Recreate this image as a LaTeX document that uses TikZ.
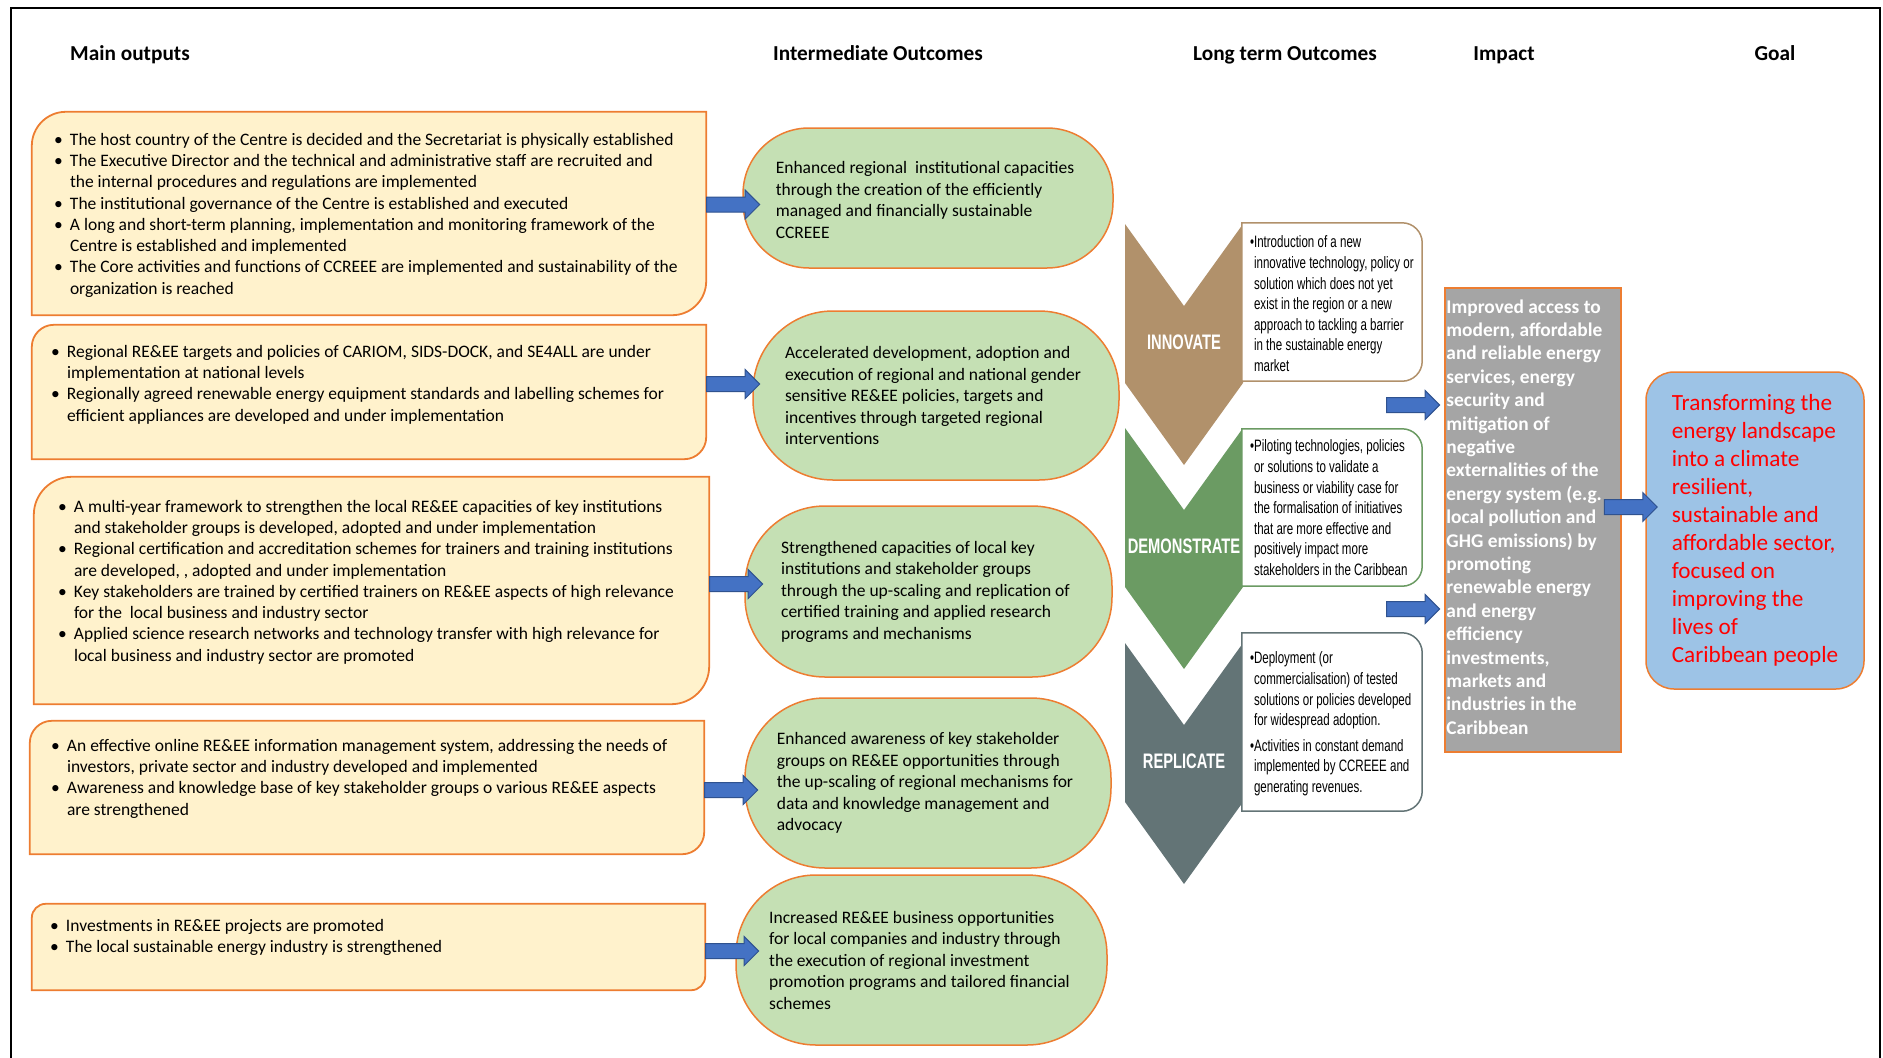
\documentclass[tikz,border=0pt]{standalone}
\usepackage{fontspec}
\setmainfont{Carlito}
\newfontfamily\narrowfont{Liberation Sans}[FakeStretch=0.70]
\usetikzlibrary{positioning,fit,calc,shapes.arrows}

\definecolor{orangeline}{HTML}{ED7D31}
\definecolor{outfill}{HTML}{FFF2CC}
\definecolor{midfill}{HTML}{C5E0B4}
\definecolor{arrowfill}{HTML}{4472C4}
\definecolor{arrowline}{HTML}{2F528F}
\definecolor{innovcol}{HTML}{B1916B}
\definecolor{democol}{HTML}{6B9B63}
\definecolor{replcol}{HTML}{637476}
\definecolor{impfill}{HTML}{A5A5A5}
\definecolor{goalfill}{HTML}{9DC3E6}
\definecolor{goalred}{HTML}{FF0000}

\newcommand\bul{\makebox[16pt][l]{\textbullet}}
\newcommand\cnt{\hspace*{16pt}}
\newcommand\cbul{\textbullet}
\newcommand\ccnt{\phantom{\textbullet}}

% frame with rounded top-left and bottom-right corners
\newcommand\moframe[2]{%
  \draw[outbox] (#1.south west)
    -- ($(#1.north west)+(0,#2)$)
    .. controls ($(#1.north west)+(0,0.45*#2)$) and ($(#1.north west)+(0.45*#2,0)$) .. ($(#1.north west)+(#2,0)$)
    -- (#1.north east)
    -- ($(#1.south east)+(0,-#2)$)
    .. controls ($(#1.south east)+(0,-0.45*#2)$) and ($(#1.south east)+(-0.45*#2,0)$) .. ($(#1.south east)+(-#2,0)$)
    -- cycle;}
% frame with rounded right corners
\newcommand\cbframe[3]{%
  \draw[draw=#3, fill=white, line width=1.5pt] (#1.north west)
    -- ($(#1.north east)+(-#2,0)$)
    .. controls ($(#1.north east)+(-0.45*#2,0)$) and ($(#1.north east)+(0,0.45*#2)$) .. ($(#1.north east)+(0,#2)$)
    -- ($(#1.south east)+(0,-#2)$)
    .. controls ($(#1.south east)+(0,-0.45*#2)$) and ($(#1.south east)+(-0.45*#2,0)$) .. ($(#1.south east)+(-#2,0)$)
    -- (#1.south west) -- cycle;}

\tikzset{
  head/.style={text height=13.7pt, text depth=0pt,
    font=\fontsize{21.3pt}{25pt}\selectfont\bfseries},
  frame/.style={inner sep=0pt},
  outbox/.style={draw=orangeline, fill=outfill, line width=1.8pt},
  outtext/.style={anchor=north west, inner sep=0pt, align=left,
    font=\fontsize{17.5pt}{21.3pt}\selectfont},
  midbox/.style={draw=orangeline, fill=midfill, line width=1.5pt,
    rounded corners=#1, inner sep=0pt},
  midtext/.style={inner sep=0pt, align=left,
    font=\fontsize{17.5pt}{21.5pt}\selectfont},
  blkarrow/.style={single arrow, draw=arrowline, fill=arrowfill, line width=1pt,
    minimum height=53pt, inner xsep=0pt, inner ysep=7pt,
    single arrow head extend=7pt},
  chevlabel/.style={text=white, font=\narrowfont\bfseries\fontsize{21pt}{25pt}\selectfont},
  chevtext/.style={anchor=north west, inner sep=0pt, align=left,
    font=\narrowfont\fontsize{16.5pt}{20.6pt}\selectfont},
}

\begin{document}
\begin{tikzpicture}[x=1pt, y=-1pt]
  \useasboundingbox (0,0) rectangle (1883,1058);
  \draw[line width=2pt] (11,1058) -- (11,8) -- (1880,8) -- (1880,1058);

  % column heads
  \node[head] (hmain) at (130,54) {Main outputs};
  \node[head] (hinter) at (878,54) {Intermediate Outcomes};
  \node[head] (hlong) at (1285,54) {Long term Outcomes};
  \node[head] (himp) at (1504,54) {Impact};
  \node[head] (hgoal) at (1775,54) {Goal};

  % main outputs
  \node[frame, fit={(32,112) (706,315)}] (mo1) {};
  \moframe{mo1}{34}
  \node[outtext] (mot1) at ([shift={(22,21)}]mo1.north west)
    {\bul The host country of the Centre is decided and the Secretariat is physically established\\
     \bul The Executive Director and the technical and administrative staff are recruited and\\
     \cnt the internal procedures and regulations are implemented\\
     \bul The institutional governance of the Centre is established and executed\\
     \bul A long and short-term planning, implementation and monitoring framework of the\\
     \cnt Centre is established and implemented\\
     \bul The Core activities and functions of CCREEE are implemented and sustainability of the\\
     \cnt organization is reached};

  \node[frame, fit={(32,325) (706,459)}] (mo2) {};
  \moframe{mo2}{22}
  \node[outtext] (mot2) at ([shift={(19,20)}]mo2.north west)
    {\bul Regional RE\&EE targets and policies of CARIOM, SIDS-DOCK, and SE4ALL are under\\
     \cnt implementation at national levels\\
     \bul Regionally agreed renewable energy equipment standards and labelling schemes for\\
     \cnt efficient appliances are developed and under implementation};

  \node[frame, fit={(34,477) (709,704)}] (mo3) {};
  \moframe{mo3}{38}
  \node[outtext] (mot3) at ([shift={(24,23)}]mo3.north west)
    {\bul A multi-year framework to strengthen the local RE\&EE capacities of key institutions\\
     \cnt and stakeholder groups is developed, adopted and under implementation\\
     \bul Regional certification and accreditation schemes for trainers and training institutions\\
     \cnt are developed, , adopted and under implementation\\
     \bul Key stakeholders are trained by certified trainers on RE\&EE aspects of high relevance\\
     \cnt for the\ \ local business and industry sector\\
     \bul Applied science research networks and technology transfer with high relevance for\\
     \cnt local business and industry sector are promoted};

  \node[frame, fit={(30,721) (704,854)}] (mo4) {};
  \moframe{mo4}{22}
  \node[outtext] (mot4) at ([shift={(21,18)}]mo4.north west)
    {\bul An effective online RE\&EE information management system, addressing the needs of\\
     \cnt investors, private sector and industry developed and implemented\\
     \bul Awareness and knowledge base of key stakeholder groups o various RE\&EE aspects\\
     \cnt are strengthened};

  \node[frame, fit={(32,904) (705,990)}] (mo5) {};
  \moframe{mo5}{14}
  \node[outtext] (mot5) at ([shift={(18,15)}]mo5.north west)
    {\bul Investments in RE\&EE projects are promoted\\
     \bul The local sustainable energy industry is strengthened};

  % intermediate outcomes
  \node[midbox=66, fit={(743,128) (1113,268)}] (io1) {};
  \node[midtext] (iot1) at ([shift={(-3pt,-2pt)}]io1.center)
    {Enhanced regional\ \ institutional capacities\\
     through the creation of the efficiently\\
     managed and financially sustainable\\
     CCREEE};
  \node[midbox=80, fit={(753,311) (1119,480)}] (io2) {};
  \node[midtext] (iot2) at ([xshift=-3pt]io2.center)
    {Accelerated development, adoption and\\
     execution of regional and national gender\\
     sensitive RE\&EE policies, targets and\\
     incentives through targeted regional\\
     interventions};
  \node[midbox=80, fit={(745,506) (1112,677)}] (io3) {};
  \node[midtext] (iot3) at ([xshift=-3pt]io3.center)
    {Strengthened capacities of local key\\
     institutions and stakeholder groups\\
     through the up-scaling and replication of\\
     certified training and applied research\\
     programs and mechanisms};
  \node[midbox=80, fit={(745,698) (1111,868)}] (io4) {};
  \node[midtext] (iot4) at ([xshift=-3pt]io4.center)
    {Enhanced awareness of key stakeholder\\
     groups on RE\&EE opportunities through\\
     the up-scaling of regional mechanisms for\\
     data and knowledge management and\\
     advocacy};
  \node[midbox=80, fit={(736,875) (1107,1045)}] (io5) {};
  \node[midtext] (iot5) at ([xshift=-2pt]io5.center)
    {Increased RE\&EE business opportunities\\
     for local companies and industry through\\
     the execution of regional investment\\
     promotion programs and tailored financial\\
     schemes};

  \node[blkarrow, anchor=tail] (ar1) at ([yshift=9pt]mo1.east) {};
  \node[blkarrow, anchor=tail] (ar2) at ([yshift=8pt]mo2.east) {};
  \node[blkarrow, anchor=tail] (ar3) at ([yshift=6.5pt]mo3.east) {};
  \node[blkarrow, anchor=tail] (ar4) at ([yshift=-2.5pt]mo4.east) {};
  \node[blkarrow, anchor=tail] (ar5) at ([yshift=-4pt]mo5.east) {};

  % long term outcomes
  \foreach \ty/\col/\lbl/\nm in {224/innovcol/INNOVATE/ch1,
                                 428/democol/DEMONSTRATE/ch2,
                                 643/replcol/REPLICATE/ch3}{
    \fill[\col] (1125,\ty) -- (1184,\ty+82) -- (1243,\ty) -- (1243,\ty+159)
      -- (1184,\ty+241) -- (1125,\ty+159) -- cycle;
    \node[chevlabel] (\nm) at (1184,\ty+118) {\lbl};
  }

  \node[frame, fit={(1242,223) (1422,381)}] (cb1) {};
  \cbframe{cb1}{20}{innovcol}
  \node[chevtext] (cbt1) at ([shift={(8,13)}]cb1.north west)
    {\cbul Introduction of a new\\
     \ccnt innovative technology, policy or\\
     \ccnt solution which does not yet\\
     \ccnt exist in the region or a new\\
     \ccnt approach to tackling a barrier\\
     \ccnt in the sustainable energy\\
     \ccnt market};

  \node[frame, fit={(1242,429) (1422,586)}] (cb2) {};
  \cbframe{cb2}{20}{democol}
  \node[chevtext] (cbt2) at ([shift={(8,11)}]cb2.north west)
    {\cbul Piloting technologies, policies\\
     \ccnt or solutions to validate a\\
     \ccnt business or viability case for\\
     \ccnt the formalisation of initiatives\\
     \ccnt that are more effective and\\
     \ccnt positively impact more\\
     \ccnt stakeholders in the Caribbean};

  \node[frame, fit={(1242,633) (1422,811)}] (cb3) {};
  \cbframe{cb3}{20}{replcol}
  \node[chevtext] (cbt3) at ([shift={(8,19)}]cb3.north west)
    {\cbul Deployment (or\\
     \ccnt commercialisation) of tested\\
     \ccnt solutions or policies developed\\
     \ccnt for widespread adoption.\\[5pt]
     \cbul Activities in constant demand\\
     \ccnt implemented by CCREEE and\\
     \ccnt generating revenues.};

  % impact
  \node[frame, draw=orangeline, fill=impfill, line width=1.5pt,
        fit={(1445,288) (1621,752)}] (imp) {};
  \node[anchor=west, inner sep=0pt, align=left, text=white,
        font=\fontsize{19.4pt}{23.4pt}\selectfont\bfseries] (impt)
        at ([shift={(2pt,3pt)}]imp.west)
    {Improved access to\\ modern, affordable\\ and reliable energy\\ services, energy\\
     security and\\ mitigation of\\ negative\\ externalities of the\\ energy system (e.g.\\
     local pollution and\\ GHG emissions) by\\ promoting\\ renewable energy\\ and energy\\
     efficiency\\ investments,\\ markets and\\ industries in the\\ Caribbean};

  \node[blkarrow, anchor=tip] (ar6) at ([shift={(-4pt,115pt)}]imp.west) {};
  \node[blkarrow, anchor=tip] (ar7) at ([shift={(-4pt,-89pt)}]imp.west) {};

  % goal
  \node[draw=orangeline, fill=goalfill, line width=1.5pt, rounded corners=28pt,
        inner sep=0pt, fit={(1646,372) (1864,689)}] (goal) {};
  \node[inner sep=0pt, align=left, text=goalred,
        font=\fontsize{23.2pt}{28pt}\selectfont] (goalt) at (goal.center)
    {Transforming the\\ energy landscape\\ into a climate\\ resilient,\\ sustainable and\\
     affordable sector,\\ focused on\\ improving the\\ lives of\\ Caribbean people};

  \node[blkarrow, anchor=tail] (ar8) at ([shift={(-18pt,13pt)}]imp.east) {};
\end{tikzpicture}
\end{document}
